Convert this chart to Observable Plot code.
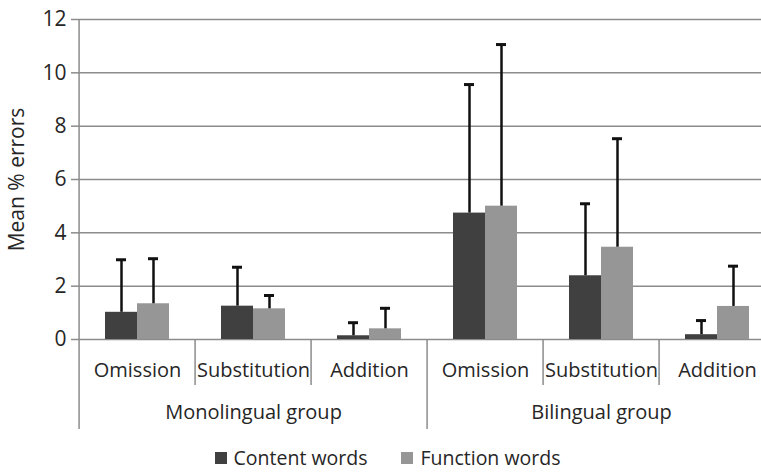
<!DOCTYPE html>
<html><head><meta charset="utf-8">
<script src="https://cdn.jsdelivr.net/npm/d3@7"></script>
<script src="https://cdn.jsdelivr.net/npm/@observablehq/plot@0.6"></script>
<style>
html,body{margin:0;background:#fff;font-family:"Open Sans",sans-serif;overflow:hidden}
#chart svg{display:block}
#legend{display:flex;justify-content:center;align-items:center;gap:34px;font-size:19.5px;line-height:22px;color:#262626;height:22px;padding-left:14px;padding-top:7px;width:747px}
.item{display:flex;align-items:center;gap:7px}
.sw{width:12px;height:12px;display:inline-block}
</style></head><body>
<div id="chart"></div><div id="legend"></div>
<script>
const groups = ["Monolingual group", "Bilingual group"];
const errorTypes = ["Omission", "Substitution", "Addition"];
const series = ["Content words", "Function words"];
// order: Monolingual (Omission, Substitution, Addition), Bilingual (Omission, Substitution, Addition)
const contentMean = [1.02, 1.25, 0.14, 4.74, 2.39, 0.18];
const contentSD   = [1.97, 1.46, 0.49, 4.82, 2.70, 0.53];
const functionMean = [1.34, 1.15, 0.40, 5.00, 3.46, 1.24];
const functionSD   = [1.69, 0.50, 0.77, 6.06, 4.07, 1.51];
const yTicks = [0, 2, 4, 6, 8, 10, 12];
const colors = ["#404040", "#969696"];

const slots = [];
groups.forEach(g => errorTypes.forEach(t => slots.push({key: g + "|" + t, group: g, type: t, first: t === errorTypes[0]})));
const rows = [];
slots.forEach((s, i) => {
  rows.push({slot: s.key, series: series[0], value: contentMean[i], sd: contentSD[i]});
  rows.push({slot: s.key, series: series[1], value: functionMean[i], sd: functionSD[i]});
});

const W = 761, H = 440, mL = 76, mR = -16, mT = 19, mB = 101;
const slotW = (W - mL - mR) / slots.length;
const plotH = H - mT - mB;
const lineColor = "#8c8c8c";

const chart = Plot.plot({
  width: W, height: H, marginLeft: mL, marginRight: mR, marginTop: mT, marginBottom: mB,
  style: {fontFamily: "'Open Sans', sans-serif", fontSize: "20px", color: "#262626", background: "#fff"},
  fx: {domain: slots.map(s => s.key), padding: 0, axis: null},
  x: {domain: series, paddingInner: 0, paddingOuter: 0.77, axis: null},
  y: {domain: [0, 12], axis: null},
  color: {domain: series, range: colors},
  marks: [
    Plot.gridY(yTicks, {stroke: lineColor, strokeOpacity: 1, strokeWidth: 1.5}),
    Plot.axisY(yTicks, {tickSize: 8, tickPadding: 5, stroke: lineColor, strokeWidth: 1.5, fontSize: 21,
      label: "Mean % errors", labelAnchor: "center", labelArrow: "none", labelOffset: 70}),
    Plot.barY(rows, {fx: "slot", x: "series", y: "value", fill: "series"}),
    Plot.ruleX(rows, {fx: "slot", x: "series", y1: "value", y2: d => d.value + d.sd, stroke: "#111", strokeWidth: 2.5}),
    Plot.tickY(rows, {fx: "slot", x: "series", y: d => d.value + d.sd, stroke: "#111", strokeWidth: 3, insetLeft: 11, insetRight: 11}),
    // left axis line
    Plot.ruleX(slots.slice(0, 1), {fx: "key", x: null, dx: -slotW / 2, stroke: lineColor, strokeWidth: 1.5}),
    // short separators between error types
    Plot.ruleX(slots.filter(s => !s.first), {fx: "key", x: null, dx: -slotW / 2, insetTop: plotH, insetBottom: -46, stroke: lineColor, strokeWidth: 1.5}),
    // long separators between groups
    Plot.ruleX(slots.filter(s => s.first), {fx: "key", x: null, dx: -slotW / 2, insetTop: plotH, insetBottom: -90, stroke: lineColor, strokeWidth: 1.5}),
    Plot.text(slots, {fx: "key", text: "type", frameAnchor: "bottom", dy: 37, fontSize: 20, fill: "#262626"}),
    Plot.text(groups, {fx: g => g + "|" + errorTypes[Math.floor(errorTypes.length / 2)], text: d => d, frameAnchor: "bottom", dy: 79, fontSize: 20, fill: "#262626"})
  ]
});
document.getElementById("chart").appendChild(chart);

const legend = document.getElementById("legend");
series.forEach((s, i) => {
  const item = document.createElement("div");
  item.className = "item";
  const sw = document.createElement("span");
  sw.className = "sw";
  sw.style.background = colors[i];
  const label = document.createElement("span");
  label.textContent = s;
  item.appendChild(sw);
  item.appendChild(label);
  legend.appendChild(item);
});
</script>
</body></html>
